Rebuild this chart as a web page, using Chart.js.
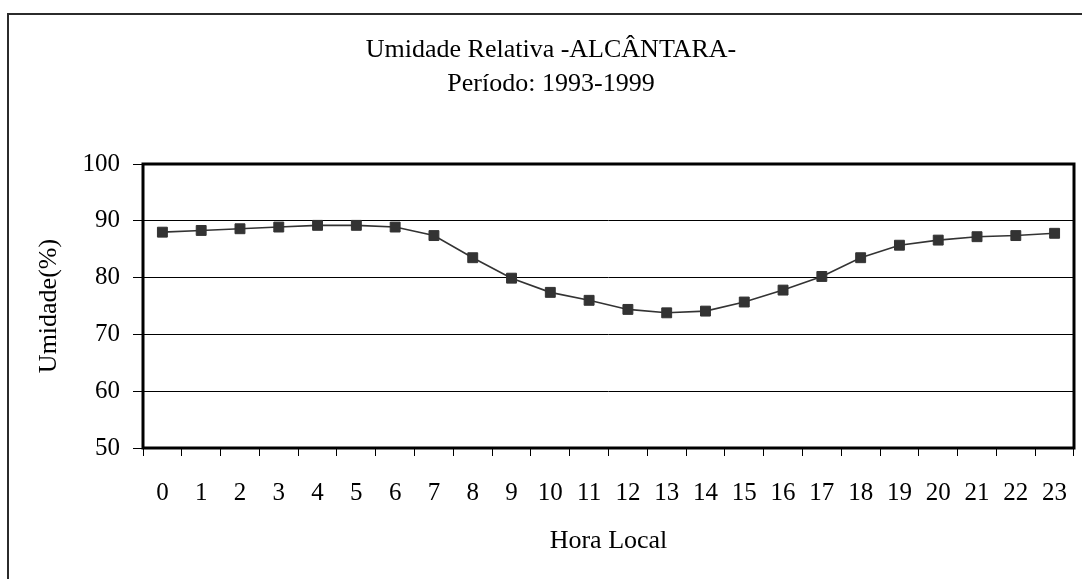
<!DOCTYPE html>
<html>
<head>
<meta charset="utf-8">
<script src="https://cdn.jsdelivr.net/npm/chart.js@4/dist/chart.umd.min.js"></script>
<style>
  html, body { margin: 0; padding: 0; background: #fff; overflow: hidden; }
  #wrap { position: relative; width: 1082px; height: 579px; overflow: hidden; }
  #frame { position: absolute; left: 7px; top: 13px; width: 2000px; height: 2000px; border: 2px solid #2b2b2b; box-sizing: border-box; }
  #c { position: absolute; left: 0; top: 0; }
</style>
</head>
<body>
<div id="wrap">
  <div id="frame"></div>
  <canvas id="c" width="1082" height="579"></canvas>
</div>
<script>
const titleLines = ['Umidade Relativa -ALCÂNTARA-', 'Período: 1993-1999'];
const hours = ['0','1','2','3','4','5','6','7','8','9','10','11','12','13','14','15','16','17','18','19','20','21','22','23'];
const humidity = [88.0, 88.3, 88.6, 88.9, 89.2, 89.2, 88.9, 87.4, 83.5, 79.9, 77.4, 76.0, 74.4, 73.8, 74.1, 75.7, 77.8, 80.2, 83.5, 85.7, 86.6, 87.2, 87.4, 87.8];
const yMin = 50, yMax = 100, yStep = 10;
const xTitle = 'Hora Local';
const yTitle = 'Umidade(%)';

const FONT = "'Liberation Serif', 'Times New Roman', serif";

const framePlugin = {
  id: 'plotFrame',
  afterDraw(chart) {
    const a = chart.chartArea, ctx = chart.ctx;
    ctx.save();
    ctx.strokeStyle = '#000';
    ctx.lineWidth = 3;
    ctx.strokeRect(a.left, a.top, a.right - a.left, a.bottom - a.top);
    ctx.restore();
  }
};

new Chart(document.getElementById('c'), {
  type: 'line',
  data: {
    labels: hours,
    datasets: [{
      data: humidity,
      borderColor: '#333',
      borderWidth: 1.6,
      backgroundColor: '#333',
      pointStyle: 'rect',
      pointRadius: 7,
      pointBorderWidth: 1,
      pointBorderColor: '#333',
      pointBackgroundColor: '#333',
      tension: 0,
      fill: false
    }]
  },
  plugins: [framePlugin],
  options: {
    responsive: false,
    animation: false,
    layout: { padding: { left: 23, right: 3, top: 33, bottom: 0 } },
    plugins: {
      legend: { display: false },
      tooltip: { enabled: false },
      title: {
        display: true,
        text: titleLines,
        color: '#000',
        font: { family: FONT, size: 26, weight: 'normal', lineHeight: 1.3 },
        padding: { top: 0, bottom: 63.4 }
      }
    },
    scales: {
      x: {
        offset: true,
        grid: { offset: true, drawOnChartArea: false, drawTicks: true, tickLength: 8, tickColor: '#000', tickWidth: 1 },
        border: { display: false },
        ticks: { color: '#000', font: { family: FONT, size: 25 }, padding: 22, maxRotation: 0, autoSkip: false },
        title: { display: true, text: xTitle, color: '#000', font: { family: FONT, size: 26, lineHeight: 1.2 }, padding: { top: 0, bottom: 22.4 } },
        afterFit(s) { s.height = 131; s.paddingLeft = 0; s.paddingRight = 0; }
      },
      y: {
        min: yMin, max: yMax,
        grid: { color: '#000', lineWidth: 1, drawTicks: true, tickLength: 10, tickColor: '#000' },
        border: { display: false },
        ticks: { stepSize: yStep, color: '#000', font: { family: FONT, size: 25 }, padding: 13 },
        title: { display: true, text: yTitle, color: '#000', font: { family: FONT, size: 26, lineHeight: 1.2 }, padding: { top: 10.4, bottom: 0 } },
        afterFit(s) { s.width = 120; }
      }
    }
  }
});
</script>
</body>
</html>
